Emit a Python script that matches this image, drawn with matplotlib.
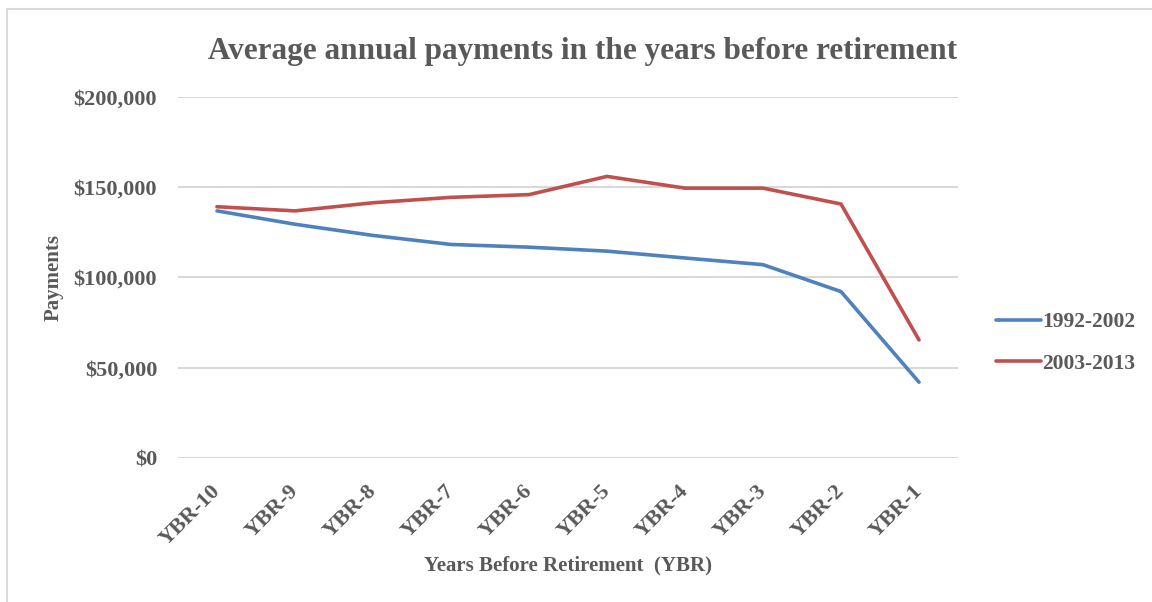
import matplotlib
matplotlib.use("Agg")
import matplotlib.pyplot as plt
from matplotlib.patches import Rectangle
from matplotlib.ticker import FuncFormatter

# average annual payments by years before retirement
categories = ["YBR-10", "YBR-9", "YBR-8", "YBR-7", "YBR-6",
              "YBR-5", "YBR-4", "YBR-3", "YBR-2", "YBR-1"]
pay_1992_2002 = [136900, 129500, 123300, 118300, 116800,
                 114600, 110800, 107100, 92200, 42000]
pay_2003_2013 = [139200, 136900, 141400, 144400, 145900,
                 156000, 149500, 149500, 140700, 65400]
yticks = [0, 50000, 100000, 150000, 200000]

plt.rcParams["font.family"] = ["Liberation Serif", "DejaVu Serif"]
plt.rcParams["font.weight"] = "bold"
plt.rcParams["axes.labelweight"] = "bold"
grey = "#595959"

fig = plt.figure(figsize=(11.52, 6.02), dpi=100)
ax = fig.add_axes([0.1545, 0.2392, 0.6771, 0.5997])

# chart frame
fig.patches.append(Rectangle((7 / 1152, -0.05), 1.1, 1 - 9 / 602 + 0.05,
                             transform=fig.transFigure, fill=False,
                             edgecolor="#d9d9d9", lw=1.5))

x = range(len(categories))
ax.plot(x, pay_1992_2002, color="#4f81bd", lw=2.6, label="1992-2002",
        solid_capstyle="round", solid_joinstyle="round")
ax.plot(x, pay_2003_2013, color="#c0504d", lw=2.6, label="2003-2013",
        solid_capstyle="round", solid_joinstyle="round")

ax.set_xlim(-0.5, len(categories) - 0.5)
ax.set_ylim(0, 200000)
ax.set_yticks(yticks)
ax.yaxis.set_major_formatter(FuncFormatter(lambda v, p: "${:,.0f}".format(v)))
ax.grid(axis="y", color="#d9d9d9", lw=1.5)
ax.set_axisbelow(True)
for s in ax.spines.values():
    s.set_visible(False)

ax.set_xticks(list(x))
ax.set_xticklabels(categories, rotation=45, ha="right", va="center",
                   rotation_mode="anchor")
ax.tick_params(axis="both", length=0, colors=grey, labelsize=16)
ax.tick_params(axis="x", pad=22)
ax.tick_params(axis="y", pad=15)

ax.set_title("Average annual payments in the years before retirement",
             fontsize=22.5, color=grey, fontweight="bold", pad=27, x=0.519)
ax.set_ylabel("Payments", fontsize=15, color=grey, labelpad=7)
ax.set_xlabel("Years Before Retirement  (YBR)", fontsize=15, color=grey,
              labelpad=4)

ax.legend(loc="center left", bbox_to_anchor=(0.848, 0.43),
          bbox_transform=fig.transFigure, frameon=False, fontsize=15.5,
          labelcolor=grey, handlelength=2.1, handletextpad=0.05,
          labelspacing=1.0)

fig.savefig("out.png", dpi=100)
